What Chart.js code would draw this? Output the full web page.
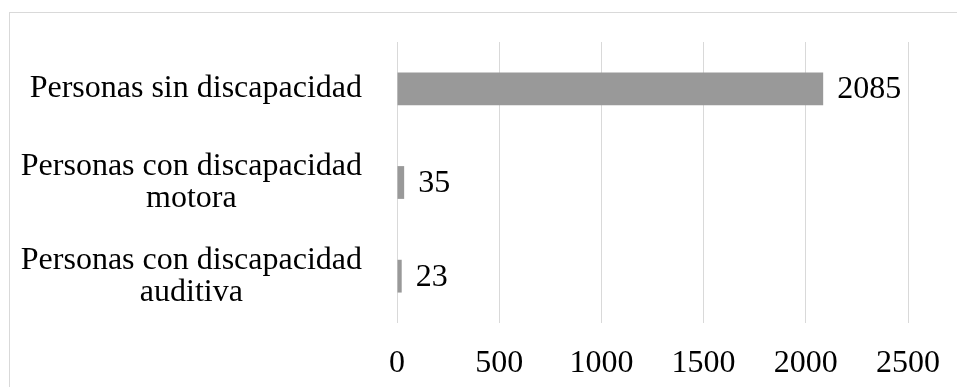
<!DOCTYPE html>
<html>
<head>
<meta charset="utf-8">
<script src="https://cdn.jsdelivr.net/npm/chart.js@4/dist/chart.umd.min.js"></script>
<style>
  html, body { margin: 0; padding: 0; background: #fff; overflow: hidden; }
  #frame { position: absolute; left: 9px; top: 12px; width: 970px; height: 400px;
           border: 1px solid #d9d9d9; box-sizing: border-box; }
  #wrap { position: absolute; left: 0; top: 0; width: 957px; height: 387px; }
</style>
</head>
<body>
<div id="frame"></div>
<div id="wrap"><canvas id="c"></canvas></div>
<script>
// Groups shown on the vertical axis (multi-line labels are arrays of lines)
const categories = [
  'Personas sin discapacidad',
  ['Personas con discapacidad', 'motora'],
  ['Personas con discapacidad', 'auditiva']
];
// Number of people in each group
const counts = [2085, 35, 23];
// Horizontal axis range and spacing
const axisMin = 0;
const axisMax = 2500;
const axisStep = 500;

const FONT = { family: '"Liberation Serif", "Times New Roman", serif', size: 32, lineHeight: 1.0 };
const CSS_FONT = `${FONT.size}px ${FONT.family}`;

// Writes each bar's value just past its end
const valueLabels = {
  id: 'valueLabels',
  afterDatasetsDraw(chart) {
    const ctx = chart.ctx;
    const meta = chart.getDatasetMeta(0);
    ctx.save();
    ctx.font = CSS_FONT;
    ctx.fillStyle = '#000';
    ctx.textAlign = 'left';
    ctx.textBaseline = 'middle';
    meta.data.forEach((bar, i) => {
      ctx.fillText(String(chart.data.datasets[0].data[i]), bar.x + 14, bar.y + 1);
    });
    ctx.restore();
  }
};

// Category labels: each block right-aligned next to the axis, its lines centred within the block
const categoryLabels = {
  id: 'categoryLabels',
  afterDraw(chart) {
    const ctx = chart.ctx;
    const yScale = chart.scales.y;
    const gap = 35;
    ctx.save();
    ctx.font = CSS_FONT;
    ctx.fillStyle = '#000';
    ctx.textAlign = 'center';
    ctx.textBaseline = 'middle';
    chart.data.labels.forEach((label, i) => {
      const lines = Array.isArray(label) ? label : [label];
      const blockW = Math.max(...lines.map(l => ctx.measureText(l).width));
      const cx = yScale.right - gap - blockW / 2;
      const cy = yScale.getPixelForTick(i);
      const lh = FONT.size * FONT.lineHeight;
      lines.forEach((l, k) => {
        ctx.fillText(l, cx, cy + (k - (lines.length - 1) / 2) * lh);
      });
    });
    ctx.restore();
  }
};

new Chart(document.getElementById('c'), {
  type: 'bar',
  data: {
    labels: categories,
    datasets: [{
      data: counts,
      backgroundColor: '#999999',
      borderWidth: 0,
      barPercentage: 1,
      categoryPercentage: 0.35
    }]
  },
  options: {
    indexAxis: 'y',
    responsive: true,
    maintainAspectRatio: false,
    animation: false,
    layout: { padding: { top: 42, right: 49, left: 0, bottom: 0 } },
    plugins: { legend: { display: false }, tooltip: { enabled: false } },
    scales: {
      x: {
        min: axisMin,
        max: axisMax,
        ticks: { stepSize: axisStep, color: '#000', font: FONT, padding: 25,
                 callback: (v) => String(v) },
        grid: { color: '#d9d9d9', lineWidth: 1, drawTicks: false },
        border: { display: false },
        afterFit(scale) {
          scale.height = 64;
          scale.paddingLeft = 0;
          scale.paddingRight = 0;
        }
      },
      y: {
        ticks: { display: false },
        grid: { display: false, drawTicks: false },
        border: { display: false },
        afterFit(scale) {
          scale.width = 397;
          scale.paddingTop = 0;
          scale.paddingBottom = 0;
        }
      }
    }
  },
  plugins: [valueLabels, categoryLabels]
});
</script>
</body>
</html>
